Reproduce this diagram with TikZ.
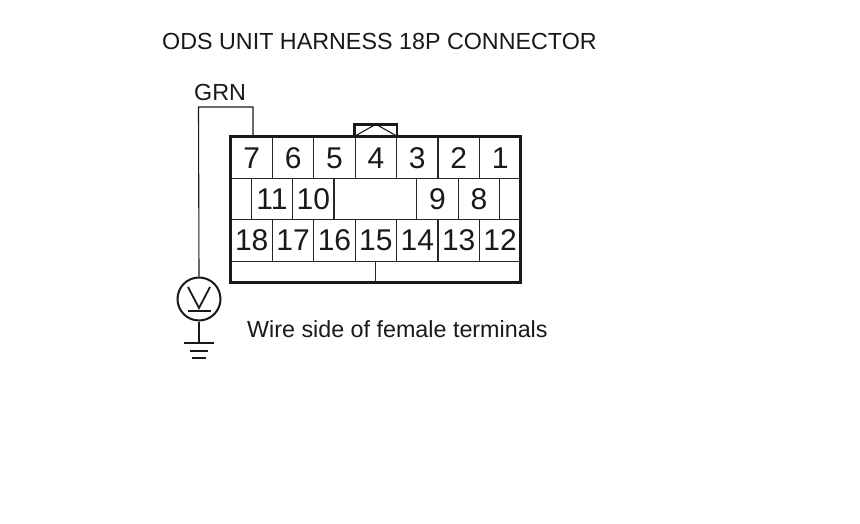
\documentclass[tikz,border=0pt]{standalone}
\usepackage{fontspec}
\setmainfont{Liberation Sans}
\tikzstyle{cell} = [rectangle, draw=black!85, line width=1.1pt, minimum width=41.4pt, minimum height=41.4pt, inner sep=0pt, text height=21pt, text depth=0pt, text=black!90, font=\fontsize{30}{32}\selectfont]
\tikzstyle{narrow} = [cell, minimum width=20.5pt]
\tikzstyle{gap} = [cell, minimum width=83.5pt]
\tikzstyle{foot} = [cell, minimum width=144.5pt, minimum height=21pt, text height=0pt]
\tikzstyle{label} = [inner sep=0pt, anchor=west, text=black!90, font=\fontsize{23.3}{25}\selectfont]
\tikzstyle{wire} = [line width=1.1pt, draw=black!90]
\tikzstyle{heavy} = [line width=3pt, draw=black!90]

\begin{document}
\begin{tikzpicture}[x=1pt, y=-1pt, node distance=41.4pt]
    \useasboundingbox (0,0) rectangle (860,524);
    \node (title) [label] at (162,41) {ODS UNIT HARNESS 18P CONNECTOR};
    \node (grn) [label] at (194,92) {GRN};
    \node (side) [label] at (247,329.5) {Wire side of female terminals};
    % top row
    \node (t7) [cell] at (251.7,157.5) {7};
    \node (t6) [cell, right of=t7] {6};
    \node (t5) [cell, right of=t6] {5};
    \node (t4) [cell, right of=t5] {4};
    \node (t3) [cell, right of=t4] {3};
    \node (t2) [cell, right of=t3] {2};
    \node (t1) [cell, right of=t2] {1};
    % middle row
    \node (blankl) [narrow] at (241.2,199) {};
    \node (t11) [cell] at (272,199) {11};
    \node (t10) [cell, right of=t11] {10};
    \node (blankc) [gap] at (375,199) {};
    \node (t9) [cell] at (437.5,199) {9};
    \node (t8) [cell, right of=t9] {8};
    \node (blankr) [narrow] at (509.5,199) {};
    % bottom row
    \node (t18) [cell] at (251.7,240.5) {18};
    \node (t17) [cell, right of=t18] {17};
    \node (t16) [cell, right of=t17] {16};
    \node (t15) [cell, right of=t16] {15};
    \node (t14) [cell, right of=t15] {14};
    \node (t13) [cell, right of=t14] {13};
    \node (t12) [cell, right of=t13] {12};
    \node (footl) [foot] at (303.2,271.7) {};
    \node (footr) [foot] at (447.7,271.7) {};
    % housing and latch
    \draw [heavy] (t7.north west) rectangle (footr.south east);
    \coordinate (latchl) at (t4.north west);
    \coordinate (latchr) at (t4.north east);
    \draw [heavy, line width=2.6pt] (latchl) -- ++(0,-12) -| (latchr);
    \draw [wire] (latchl) -- ([yshift=12pt]t4.north) -- (latchr);
    % meter
    \node (meter) [circle, draw=black!90, line width=2pt, minimum size=43pt, inner sep=0pt] at (199,299) {};
    \coordinate (bend) at (198.5,107);
    \coordinate (gnd) at (199,343);
    \draw [wire] ([xshift=1.3pt]t7.north) |- (bend) -- (meter.north);
    \draw [wire, line width=1.8pt] ([xshift=-11pt,yshift=12pt]meter.center) -- ([yshift=-9pt]meter.center) -- ([xshift=11pt,yshift=12pt]meter.center);
    \draw [wire, line width=2.2pt] ([xshift=-11.5pt,yshift=-12pt]meter.center) -- ([xshift=11.5pt,yshift=-12pt]meter.center);
    % ground
    \draw [wire] (meter.south) -- (gnd);
    \draw [wire, line width=2pt] ([xshift=-15pt]gnd) -- ([xshift=15pt]gnd);
    \draw [wire, line width=2pt] ([xshift=-9pt,yshift=-7.5pt]gnd) -- ([xshift=9pt,yshift=-7.5pt]gnd);
    \draw [wire, line width=2pt] ([xshift=-7pt,yshift=-15pt]gnd) -- ([xshift=7pt,yshift=-15pt]gnd);
\end{tikzpicture}
\end{document}
